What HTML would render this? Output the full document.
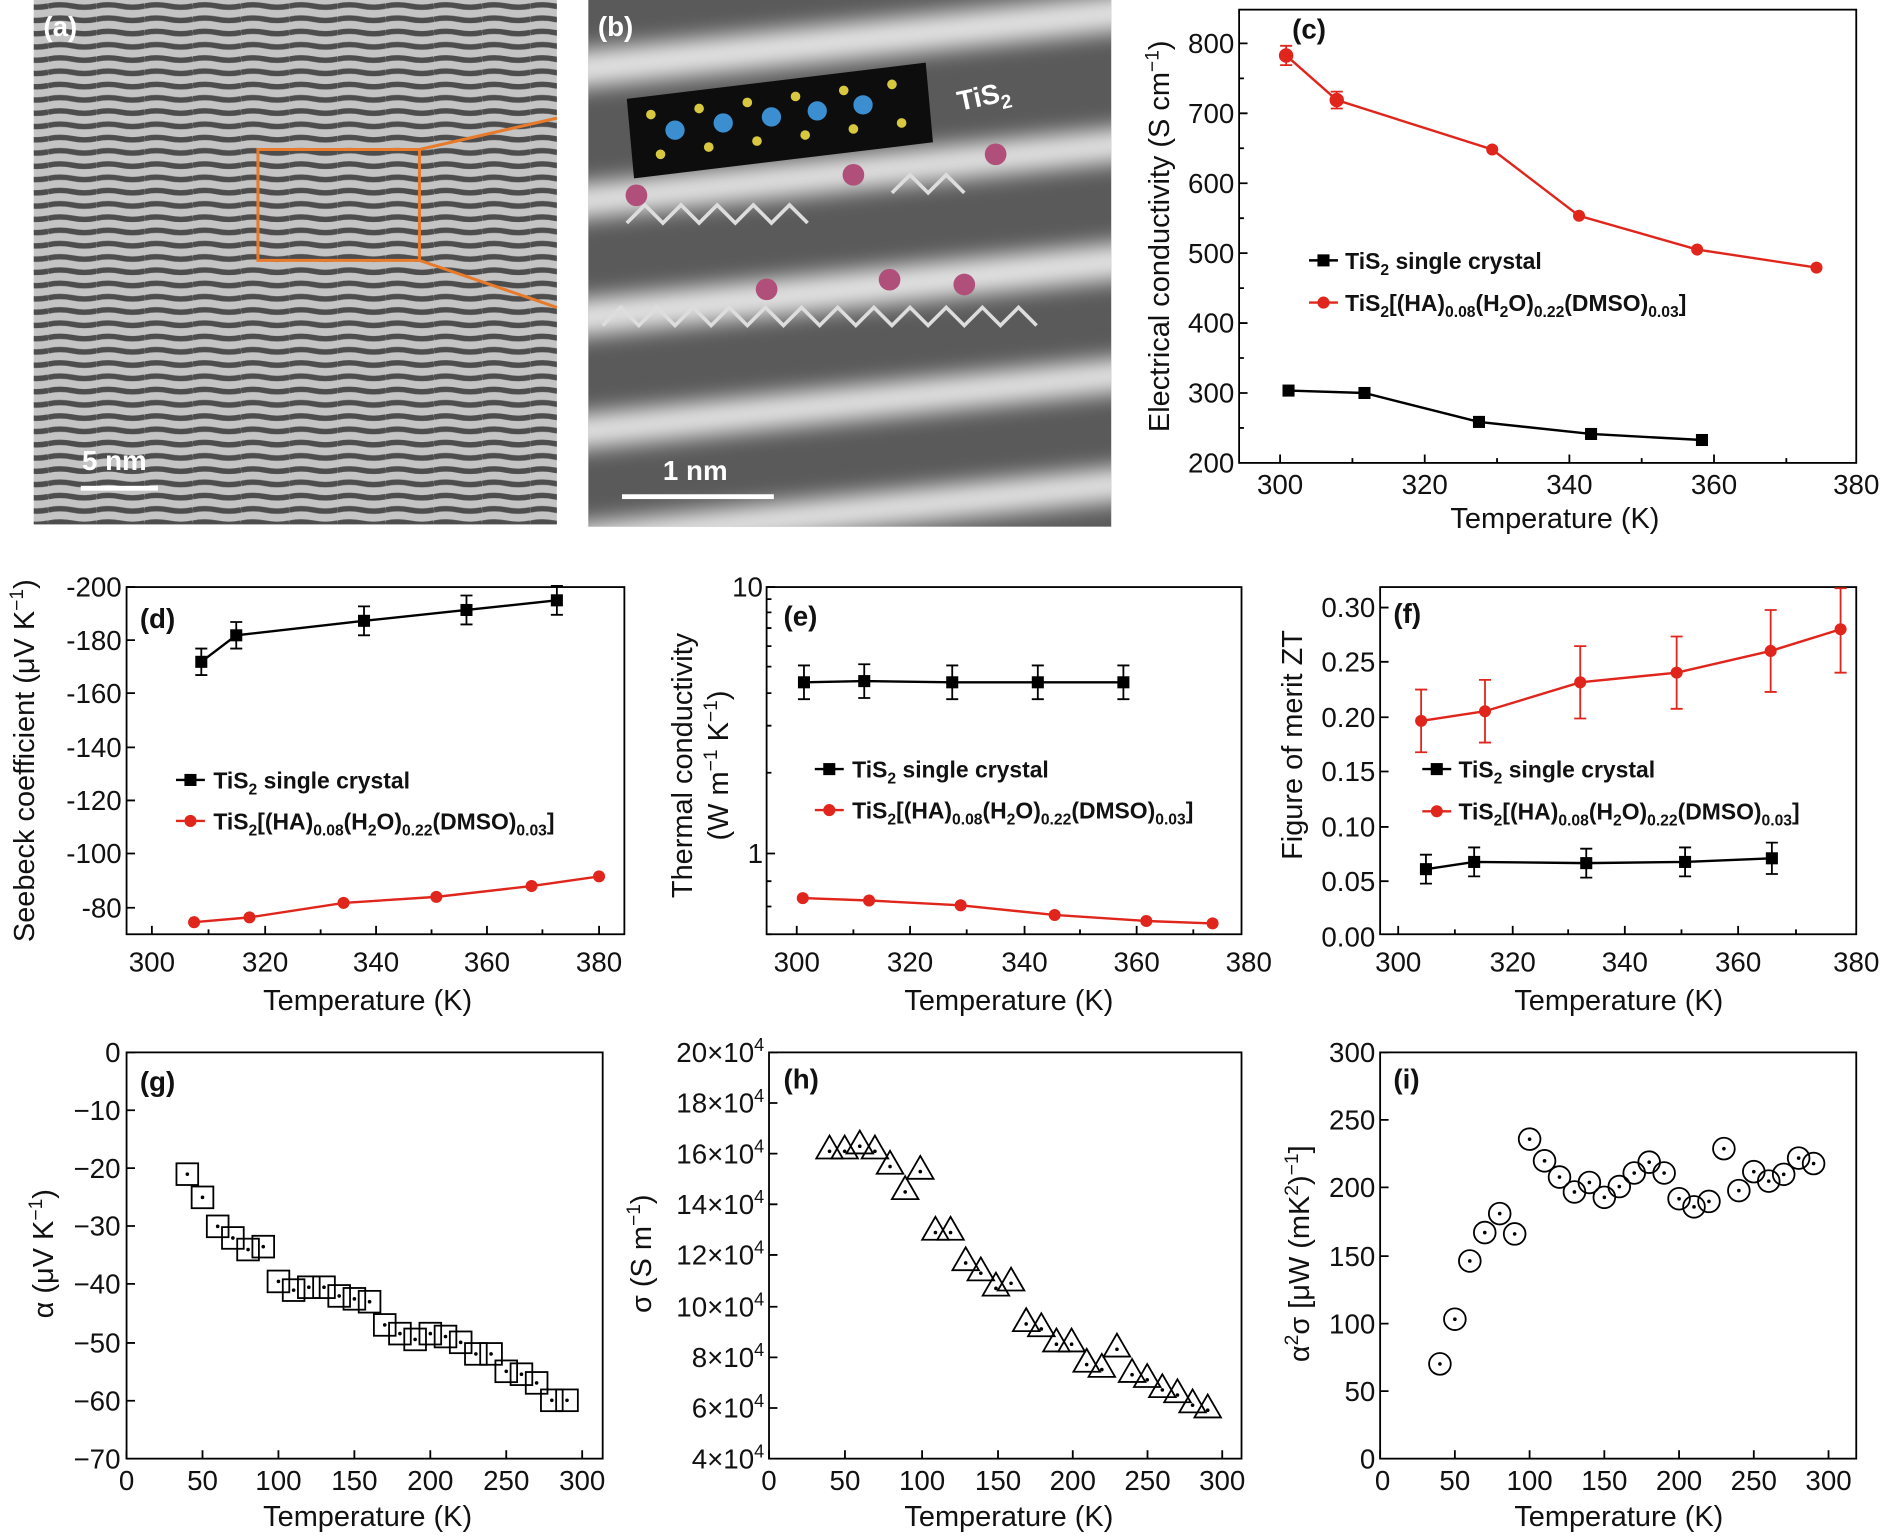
<!DOCTYPE html>
<html><head><meta charset="utf-8"><style>
html,body{margin:0;padding:0;background:#fff}
svg{display:block}
text{font-family:"Liberation Sans",sans-serif;fill:#111}
.t{font-size:23px}
.l{font-size:24px}
.g{font-size:19px;font-weight:bold}
.p{font-size:23px;font-weight:bold}
</style></head><body>
<svg id="s" width="1890" height="1537" viewBox="0 0 1568 1275" preserveAspectRatio="none" xmlns="http://www.w3.org/2000/svg">
<defs>
<pattern id="stripes" width="40" height="11" patternUnits="userSpaceOnUse">
<rect width="40" height="11" fill="#d8d8d8"/>
<path d="M0 5 Q10 3 20 5 T40 5" stroke="#3a3a3a" stroke-width="4.5" fill="none"/>
</pattern>
<filter id="bl"><feGaussianBlur stdDeviation="9"/></filter>
<clipPath id="cb"><rect x="488" y="0" width="434" height="437"/></clipPath>
</defs>
<!-- (a) -->
<rect x="28" y="0" width="434" height="435" fill="url(#stripes)"/>
<rect x="28" y="0" width="434" height="435" fill="#888" opacity="0.25"/>
<path d="M214 124H348V216H214Z M348 124L462 98 M348 216L462 255" stroke="#e87a2c" stroke-width="2.5" fill="none"/>
<text x="36" y="30" class="p" style="fill:#fff">(a)</text>
<text x="68" y="390" class="p" style="fill:#fff">5 nm</text>
<rect x="67" y="403" width="64" height="4" fill="#fff"/>
<!-- (b) -->
<g clip-path="url(#cb)">
<rect x="488" y="0" width="434" height="437" fill="#5a5a5a"/>
<g filter="url(#bl)" fill="#e6e6e6" transform="rotate(-6 705 220)">
<rect x="450" y="20" width="520" height="30"/>
<rect x="450" y="130" width="520" height="28"/>
<rect x="450" y="225" width="520" height="30"/>
<rect x="450" y="320" width="520" height="28"/>
<rect x="450" y="410" width="520" height="28"/>
</g>
<polygon points="520,82 768,52 774,118 526,148" fill="#0d0d0d"/>
<g fill="#3b8fd0"><circle cx="560" cy="108" r="8"/><circle cx="600" cy="102" r="8"/><circle cx="640" cy="97" r="8"/><circle cx="678" cy="92" r="8"/><circle cx="716" cy="87" r="8"/></g>
<g fill="#d8c840"><circle cx="540" cy="95" r="4"/><circle cx="580" cy="90" r="4"/><circle cx="620" cy="85" r="4"/><circle cx="660" cy="80" r="4"/><circle cx="700" cy="75" r="4"/><circle cx="740" cy="70" r="4"/><circle cx="548" cy="128" r="4"/><circle cx="588" cy="122" r="4"/><circle cx="628" cy="117" r="4"/><circle cx="668" cy="112" r="4"/><circle cx="708" cy="107" r="4"/><circle cx="748" cy="102" r="4"/></g>
<g stroke="#ddd" stroke-width="3" fill="none">
<path d="M520 185l15-15 15 15 15-15 15 15 15-15 15 15 15-15 15 15 15-15 15 15"/>
<path d="M500 270l15-15 15 15 15-15 15 15 15-15 15 15 15-15 15 15 15-15 15 15 15-15 15 15 15-15 15 15 15-15 15 15 15-15 15 15 15-15 15 15 15-15 15 15 15-15 15 15"/>
<path d="M740 160l15-15 15 15 15-15 15 15"/>
</g>
<g fill="#b0507a"><circle cx="528" cy="162" r="9"/><circle cx="708" cy="145" r="9"/><circle cx="826" cy="128" r="9"/><circle cx="636" cy="240" r="9"/><circle cx="738" cy="232" r="9"/><circle cx="800" cy="236" r="9"/></g>
<text x="796" y="92" class="p" style="fill:#fff" transform="rotate(-12 796 92)">TiS<tspan dy="6" font-size="16">2</tspan></text>
</g>
<text x="496" y="30" class="p" style="fill:#fff">(b)</text>
<text x="550" y="398" class="p" style="fill:#fff">1 nm</text>
<rect x="516" y="410" width="126" height="4" fill="#fff"/>

<!-- (c) -->
<g stroke="#000" stroke-width="1.5" fill="none">
<rect x="1028" y="8" width="512" height="376"/>
<path d="M1062 384v-7M1122 384v-4M1182 384v-7M1242 384v-4M1302 384v-7M1362 384v-4M1422 384v-7M1482 384v-4"/>
<path d="M1028 36h7M1028 94h7M1028 152h7M1028 210h7M1028 268h7M1028 326h7M1028 65h4M1028 123h4M1028 181h4M1028 239h4M1028 297h4M1028 355h4"/>
</g>
<g class="t" text-anchor="middle"><text x="1062" y="410">300</text><text x="1182" y="410">320</text><text x="1302" y="410">340</text><text x="1422" y="410">360</text><text x="1540" y="410">380</text></g>
<g class="t" text-anchor="end"><text x="1024" y="44">800</text><text x="1024" y="102">700</text><text x="1024" y="160">600</text><text x="1024" y="218">500</text><text x="1024" y="276">400</text><text x="1024" y="334">300</text><text x="1024" y="392">200</text></g>
<text x="1290" y="438" class="l" text-anchor="middle">Temperature (K)</text>
<text transform="translate(970 196) rotate(-90)" class="l" text-anchor="middle">Electrical conductivity (S cm<tspan dy="-9" font-size="16">−1</tspan><tspan dy="9">)</tspan></text>
<text x="1072" y="32" class="p">(c)</text>
<polyline points="1067,46 1109,83 1238,124 1310,179 1408,207 1507,222" stroke="#e0261c" stroke-width="2" fill="none"/>
<path d="M1067 38v16M1062 38h10M1062 54h10M1109 76v14M1104 76h10M1104 90h10" stroke="#e0261c" stroke-width="1.5"/>
<g fill="#e0261c"><circle cx="1067" cy="46" r="6"/><circle cx="1109" cy="83" r="6"/><circle cx="1238" cy="124" r="5"/><circle cx="1310" cy="179" r="5"/><circle cx="1408" cy="207" r="5"/><circle cx="1507" cy="222" r="5"/></g>
<polyline points="1069,324 1132,326 1227,350 1320,360 1412,365" stroke="#000" stroke-width="2" fill="none"/>
<g fill="#000"><rect x="1064" y="319" width="10" height="10"/><rect x="1127" y="321" width="10" height="10"/><rect x="1222" y="345" width="10" height="10"/><rect x="1315" y="355" width="10" height="10"/><rect x="1407" y="360" width="10" height="10"/></g>
<path d="M1086 216h24" stroke="#000" stroke-width="2"/><rect x="1093" y="211" width="10" height="10"/>
<text x="1116" y="223" class="g">TiS<tspan dy="5" font-size="13">2</tspan><tspan dy="-5"> single crystal</tspan></text>
<path d="M1086 251h24" stroke="#e0261c" stroke-width="2"/><circle cx="1098" cy="251" r="5" fill="#e0261c"/>
<text x="1116" y="258" class="g">TiS<tspan dy="5" font-size="13">2</tspan><tspan dy="-5">[(HA)</tspan><tspan dy="5" font-size="13">0.08</tspan><tspan dy="-5">(H</tspan><tspan dy="5" font-size="13">2</tspan><tspan dy="-5">O)</tspan><tspan dy="5" font-size="13">0.22</tspan><tspan dy="-5">(DMSO)</tspan><tspan dy="5" font-size="13">0.03</tspan><tspan dy="-5">]</tspan></text>

<!-- (d) -->
<g stroke="#000" stroke-width="1.5" fill="none">
<rect x="105" y="487" width="413" height="288"/>
<path d="M126 775v-7M220 775v-7M312 775v-7M404 775v-7M497 775v-7M173 775v-4M266 775v-4M358 775v-4M450 775v-4"/>
<path d="M105 487h7M105 531h7M105 575h7M105 620h7M105 664h7M105 708h7M105 753h7"/>
</g>
<g class="t" text-anchor="middle"><text x="126" y="806">300</text><text x="220" y="806">320</text><text x="312" y="806">340</text><text x="404" y="806">360</text><text x="497" y="806">380</text></g>
<g class="t" text-anchor="end"><text x="101" y="495">-200</text><text x="101" y="539">-180</text><text x="101" y="583">-160</text><text x="101" y="628">-140</text><text x="101" y="672">-120</text><text x="101" y="716">-100</text><text x="101" y="761">-80</text></g>
<text x="305" y="838" class="l" text-anchor="middle">Temperature (K)</text>
<text transform="translate(28 631) rotate(-90)" class="l" text-anchor="middle">Seebeck coefficient (μV K<tspan dy="-9" font-size="16">−1</tspan><tspan dy="9">)</tspan></text>
<text x="116" y="521" class="p">(d)</text>
<polyline points="167,549 196,527 302,515 387,506 462,498" stroke="#000" stroke-width="2" fill="none"/>
<path d="M167 538v22M162 538h10M162 560h10M196 516v22M191 516h10M191 538h10M302 503v24M297 503h10M297 527h10M387 494v24M382 494h10M382 518h10M462 486v24M457 486h10M457 510h10" stroke="#000" stroke-width="1.5"/>
<g fill="#000"><rect x="162" y="544" width="10" height="10"/><rect x="191" y="522" width="10" height="10"/><rect x="297" y="510" width="10" height="10"/><rect x="382" y="501" width="10" height="10"/><rect x="457" y="493" width="10" height="10"/></g>
<polyline points="161,765 207,761 285,749 362,744 441,735 497,727" stroke="#e0261c" stroke-width="2" fill="none"/>
<g fill="#e0261c"><circle cx="161" cy="765" r="5"/><circle cx="207" cy="761" r="5"/><circle cx="285" cy="749" r="5"/><circle cx="362" cy="744" r="5"/><circle cx="441" cy="735" r="5"/><circle cx="497" cy="727" r="5"/></g>
<path d="M146 647h24" stroke="#000" stroke-width="2"/><rect x="153" y="642" width="10" height="10"/>
<text x="177" y="654" class="g">TiS<tspan dy="5" font-size="13">2</tspan><tspan dy="-5"> single crystal</tspan></text>
<path d="M146 681h24" stroke="#e0261c" stroke-width="2"/><circle cx="158" cy="681" r="5" fill="#e0261c"/>
<text x="177" y="688" class="g">TiS<tspan dy="5" font-size="13">2</tspan><tspan dy="-5">[(HA)</tspan><tspan dy="5" font-size="13">0.08</tspan><tspan dy="-5">(H</tspan><tspan dy="5" font-size="13">2</tspan><tspan dy="-5">O)</tspan><tspan dy="5" font-size="13">0.22</tspan><tspan dy="-5">(DMSO)</tspan><tspan dy="5" font-size="13">0.03</tspan><tspan dy="-5">]</tspan></text>

<!-- (e) -->
<g stroke="#000" stroke-width="1.5" fill="none">
<rect x="636" y="487" width="394" height="288"/>
<path d="M661 775v-7M755 775v-7M850 775v-7M943 775v-7M708 775v-4M802 775v-4M896 775v-4M990 775v-4"/>
<path d="M636 487h7M636 708h7M636 775h4M636 752h4M636 731h4M636 641h4M636 602h4M636 575h4M636 553h4M636 536h4M636 521h4M636 508h4M636 497h4"/>
</g>
<g class="t" text-anchor="middle"><text x="661" y="806">300</text><text x="755" y="806">320</text><text x="850" y="806">340</text><text x="943" y="806">360</text><text x="1036" y="806">380</text></g>
<g class="t" text-anchor="end"><text x="633" y="495">10</text><text x="633" y="716">1</text></g>
<text x="837" y="838" class="l" text-anchor="middle">Temperature (K)</text>
<text transform="translate(574 635) rotate(-90)" class="l" text-anchor="middle">Thermal conductivity</text>
<text transform="translate(604 635) rotate(-90)" class="l" text-anchor="middle">(W m<tspan dy="-9" font-size="16">−1</tspan><tspan dy="9"> K</tspan><tspan dy="-9" font-size="16">−1</tspan><tspan dy="9">)</tspan></text>
<text x="650" y="519" class="p">(e)</text>
<polyline points="667,566 717,565 790,566 861,566 932,566" stroke="#000" stroke-width="2" fill="none"/>
<path d="M667 552v28M662 552h10M662 580h10M717 551v28M712 551h10M712 579h10M790 552v28M785 552h10M785 580h10M861 552v28M856 552h10M856 580h10M932 552v28M927 552h10M927 580h10" stroke="#000" stroke-width="1.5"/>
<g fill="#000"><rect x="662" y="561" width="10" height="10"/><rect x="712" y="560" width="10" height="10"/><rect x="785" y="561" width="10" height="10"/><rect x="856" y="561" width="10" height="10"/><rect x="927" y="561" width="10" height="10"/></g>
<polyline points="666,745 721,747 797,751 875,759 951,764 1006,766" stroke="#e0261c" stroke-width="2" fill="none"/>
<g fill="#e0261c"><circle cx="666" cy="745" r="5"/><circle cx="721" cy="747" r="5"/><circle cx="797" cy="751" r="5"/><circle cx="875" cy="759" r="5"/><circle cx="951" cy="764" r="5"/><circle cx="1006" cy="766" r="5"/></g>
<path d="M676 638h24" stroke="#000" stroke-width="2"/><rect x="683" y="633" width="10" height="10"/>
<text x="707" y="645" class="g">TiS<tspan dy="5" font-size="13">2</tspan><tspan dy="-5"> single crystal</tspan></text>
<path d="M676 672h24" stroke="#e0261c" stroke-width="2"/><circle cx="688" cy="672" r="5" fill="#e0261c"/>
<text x="707" y="679" class="g">TiS<tspan dy="5" font-size="13">2</tspan><tspan dy="-5">[(HA)</tspan><tspan dy="5" font-size="13">0.08</tspan><tspan dy="-5">(H</tspan><tspan dy="5" font-size="13">2</tspan><tspan dy="-5">O)</tspan><tspan dy="5" font-size="13">0.22</tspan><tspan dy="-5">(DMSO)</tspan><tspan dy="5" font-size="13">0.03</tspan><tspan dy="-5">]</tspan></text>

<!-- (f) -->
<g stroke="#000" stroke-width="1.5" fill="none">
<rect x="1145" y="487" width="395" height="288"/>
<path d="M1160 775v-7M1255 775v-7M1348 775v-7M1442 775v-7M1207 775v-4M1301 775v-4M1395 775v-4M1490 775v-4"/>
<path d="M1145 504h7M1145 549h7M1145 595h7M1145 640h7M1145 686h7M1145 731h7"/>
</g>
<g class="t" text-anchor="middle"><text x="1160" y="806">300</text><text x="1255" y="806">320</text><text x="1348" y="806">340</text><text x="1442" y="806">360</text><text x="1540" y="806">380</text></g>
<g class="t" text-anchor="end"><text x="1141" y="512">0.30</text><text x="1141" y="557">0.25</text><text x="1141" y="603">0.20</text><text x="1141" y="648">0.15</text><text x="1141" y="694">0.10</text><text x="1141" y="739">0.05</text><text x="1141" y="785">0.00</text></g>
<text x="1343" y="838" class="l" text-anchor="middle">Temperature (K)</text>
<text transform="translate(1080 618) rotate(-90)" class="l" text-anchor="middle">Figure of merit ZT</text>
<text x="1156" y="517" class="p">(f)</text>
<polyline points="1179,598 1232,590 1311,566 1391,558 1469,540 1527,522" stroke="#e0261c" stroke-width="2" fill="none"/>
<path d="M1179 572v52M1174 572h10M1174 624h10M1232 564v52M1227 564h10M1227 616h10M1311 536v60M1306 536h10M1306 596h10M1391 528v60M1386 528h10M1386 588h10M1469 506v68M1464 506h10M1464 574h10M1527 488v70M1522 488h10M1522 558h10" stroke="#e0261c" stroke-width="1.5"/>
<g fill="#e0261c"><circle cx="1179" cy="598" r="5"/><circle cx="1232" cy="590" r="5"/><circle cx="1311" cy="566" r="5"/><circle cx="1391" cy="558" r="5"/><circle cx="1469" cy="540" r="5"/><circle cx="1527" cy="522" r="5"/></g>
<polyline points="1183,721 1223,715 1316,716 1398,715 1470,712" stroke="#000" stroke-width="2" fill="none"/>
<path d="M1183 709v24M1178 709h10M1178 733h10M1223 703v24M1218 703h10M1218 727h10M1316 704v24M1311 704h10M1311 728h10M1398 703v24M1393 703h10M1393 727h10M1470 699v26M1465 699h10M1465 725h10" stroke="#000" stroke-width="1.5"/>
<g fill="#000"><rect x="1178" y="716" width="10" height="10"/><rect x="1218" y="710" width="10" height="10"/><rect x="1311" y="711" width="10" height="10"/><rect x="1393" y="710" width="10" height="10"/><rect x="1465" y="707" width="10" height="10"/></g>
<path d="M1180 638h24" stroke="#000" stroke-width="2"/><rect x="1187" y="633" width="10" height="10"/>
<text x="1210" y="645" class="g">TiS<tspan dy="5" font-size="13">2</tspan><tspan dy="-5"> single crystal</tspan></text>
<path d="M1180 673h24" stroke="#e0261c" stroke-width="2"/><circle cx="1192" cy="673" r="5" fill="#e0261c"/>
<text x="1210" y="680" class="g">TiS<tspan dy="5" font-size="13">2</tspan><tspan dy="-5">[(HA)</tspan><tspan dy="5" font-size="13">0.08</tspan><tspan dy="-5">(H</tspan><tspan dy="5" font-size="13">2</tspan><tspan dy="-5">O)</tspan><tspan dy="5" font-size="13">0.22</tspan><tspan dy="-5">(DMSO)</tspan><tspan dy="5" font-size="13">0.03</tspan><tspan dy="-5">]</tspan></text>

<!-- (g) -->
<g stroke="#000" stroke-width="1.5" fill="none">
<rect x="105" y="873" width="395" height="337"/>
<path d="M105 1210v-7M168 1210v-7M231 1210v-7M294 1210v-7M357 1210v-7M420 1210v-7M483 1210v-7"/>
<path d="M105 873h7M105 921h7M105 969h7M105 1017h7M105 1065h7M105 1114h7M105 1162h7"/>
</g>
<g class="t" text-anchor="middle"><text x="105" y="1236">0</text><text x="168" y="1236">50</text><text x="231" y="1236">100</text><text x="294" y="1236">150</text><text x="357" y="1236">200</text><text x="420" y="1236">250</text><text x="483" y="1236">300</text></g>
<g class="t" text-anchor="end"><text x="100" y="881">0</text><text x="100" y="929">−10</text><text x="100" y="977">−20</text><text x="100" y="1025">−30</text><text x="100" y="1073">−40</text><text x="100" y="1122">−50</text><text x="100" y="1170">−60</text><text x="100" y="1218">−70</text></g>
<text x="305" y="1266" class="l" text-anchor="middle">Temperature (K)</text>
<text transform="translate(44 1040) rotate(-90)" class="l" text-anchor="middle">α (μV K<tspan dy="-9" font-size="16">−1</tspan><tspan dy="9">)</tspan></text>
<text x="116" y="905" class="p">(g)</text>
<g id="gm"></g>

<!-- (h) -->
<g stroke="#000" stroke-width="1.5" fill="none">
<rect x="638" y="873" width="392" height="337"/>
<path d="M638 1210v-7M701 1210v-7M765 1210v-7M828 1210v-7M890 1210v-7M952 1210v-7M1014 1210v-7"/>
<path d="M638 873h7M638 915h7M638 957h7M638 999h7M638 1041h7M638 1084h7M638 1126h7M638 1168h7"/>
</g>
<g class="t" text-anchor="middle"><text x="638" y="1236">0</text><text x="701" y="1236">50</text><text x="765" y="1236">100</text><text x="828" y="1236">150</text><text x="890" y="1236">200</text><text x="952" y="1236">250</text><text x="1014" y="1236">300</text></g>
<g class="t" text-anchor="end"><text x="634" y="881">20×10<tspan dy="-9" font-size="15">4</tspan></text><text x="634" y="923">18×10<tspan dy="-9" font-size="15">4</tspan></text><text x="634" y="965">16×10<tspan dy="-9" font-size="15">4</tspan></text><text x="634" y="1007">14×10<tspan dy="-9" font-size="15">4</tspan></text><text x="634" y="1049">12×10<tspan dy="-9" font-size="15">4</tspan></text><text x="634" y="1092">10×10<tspan dy="-9" font-size="15">4</tspan></text><text x="634" y="1134">8×10<tspan dy="-9" font-size="15">4</tspan></text><text x="634" y="1176">6×10<tspan dy="-9" font-size="15">4</tspan></text><text x="634" y="1218">4×10<tspan dy="-9" font-size="15">4</tspan></text></g>
<text x="837" y="1266" class="l" text-anchor="middle">Temperature (K)</text>
<text transform="translate(540 1040) rotate(-90)" class="l" text-anchor="middle">σ (S m<tspan dy="-9" font-size="16">−1</tspan><tspan dy="9">)</tspan></text>
<text x="650" y="903" class="p">(h)</text>
<g id="hm"></g>

<!-- (i) -->
<g stroke="#000" stroke-width="1.5" fill="none">
<rect x="1145" y="873" width="395" height="337"/>
<path d="M1145 1210v-7M1207 1210v-7M1269 1210v-7M1331 1210v-7M1393 1210v-7M1455 1210v-7M1517 1210v-7"/>
<path d="M1145 873h7M1145 929h7M1145 985h7M1145 1042h7M1145 1098h7M1145 1154h7"/>
</g>
<g class="t" text-anchor="middle"><text x="1147" y="1236">0</text><text x="1207" y="1236">50</text><text x="1269" y="1236">100</text><text x="1331" y="1236">150</text><text x="1393" y="1236">200</text><text x="1455" y="1236">250</text><text x="1517" y="1236">300</text></g>
<g class="t" text-anchor="end"><text x="1141" y="881">300</text><text x="1141" y="937">250</text><text x="1141" y="993">200</text><text x="1141" y="1050">150</text><text x="1141" y="1106">100</text><text x="1141" y="1162">50</text><text x="1141" y="1218">0</text></g>
<text x="1343" y="1266" class="l" text-anchor="middle">Temperature (K)</text>
<text transform="translate(1086 1040) rotate(-90)" class="l" text-anchor="middle">α<tspan dy="-9" font-size="16">2</tspan><tspan dy="9">σ [μW (mK</tspan><tspan dy="-9" font-size="16">2</tspan><tspan dy="9">)</tspan><tspan dy="-9" font-size="16">−1</tspan><tspan dy="9">]</tspan></text>
<text x="1156" y="903" class="p">(i)</text>
<g id="im"></g>
</svg>
<script>
var NS="http://www.w3.org/2000/svg";
function add(g,tag,a){var e=document.createElementNS(NS,tag);for(var k in a)e.setAttribute(k,a[k]);document.getElementById(g).appendChild(e);}
var T=[40,50,60,70,80,90,100,110,120,130,140,150,160,170,180,190,200,210,220,230,240,250,260,270,280,290];
var ga=[-21,-25,-30,-32,-34,-33.5,-39.5,-41,-40.5,-40.5,-42,-42.5,-43,-47,-48.5,-49.5,-48.5,-49,-50,-52,-52,-55,-55.5,-57,-60,-60];
var hs=[16.2,16.2,16.4,16.2,15.6,14.6,15.4,13,13,11.8,11.4,10.8,11,9.4,9.2,8.6,8.6,7.8,7.6,8.4,7.4,7.2,6.8,6.6,6.2,6.0];
var iv=[70,103,146,167,181,166,236,220,208,197,204,193,201,211,219,211,192,186,190,229,198,212,205,210,222,218];
for(var i=0;i<T.length;i++){
 var x=105+T[i]*1.26,y=873-ga[i]*4.81;
 add("gm","rect",{x:x-9,y:y-9,width:18,height:18,fill:"none",stroke:"#000","stroke-width":1.5});
 add("gm","circle",{cx:x,cy:y,r:1.5,fill:"#000"});
 x=638+T[i]*1.255;y=873+(20-hs[i])*21.06;
 add("hm","polygon",{points:(x-11)+","+(y+8)+" "+(x+11)+","+(y+8)+" "+x+","+(y-11),fill:"none",stroke:"#000","stroke-width":1.5});
 add("hm","circle",{cx:x,cy:y+2,r:1.5,fill:"#000"});
 x=1145+T[i]*1.24;y=1210-iv[i]*1.123;
 add("im","circle",{cx:x,cy:y,r:9,fill:"none",stroke:"#000","stroke-width":1.5});
 add("im","circle",{cx:x,cy:y,r:1.5,fill:"#000"});
}
</script>
</body></html>
